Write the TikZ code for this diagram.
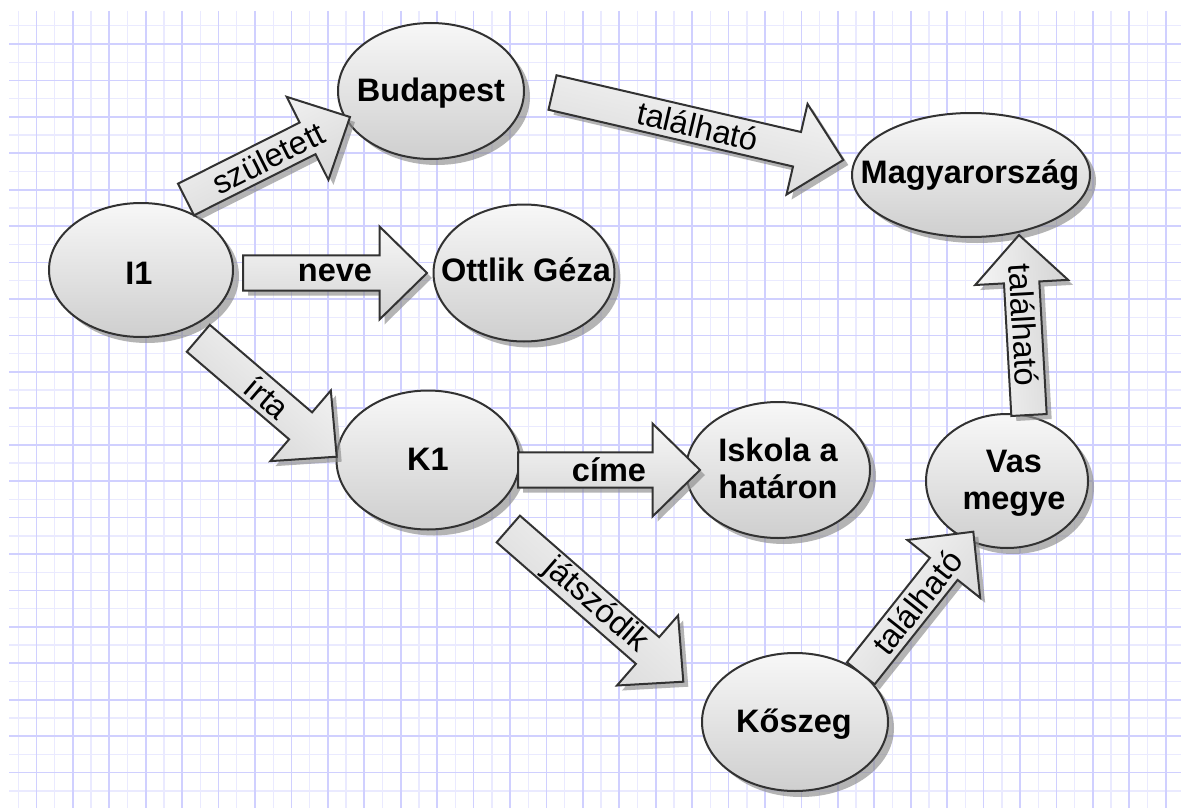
\documentclass[tikz,border=0pt]{standalone}
\usepackage{fontspec}
\setmainfont{Liberation Sans}
\usetikzlibrary{shapes.geometric,shadows,calc}

\definecolor{gridminor}{RGB}{234,234,255}
\definecolor{gridmajor}{RGB}{208,208,255}
\definecolor{edgeline}{RGB}{50,50,50}

\tikzset{
  place/.style={ellipse, draw=edgeline, line width=2pt,
    top color=black!3, bottom color=black!19, inner sep=0pt,
    drop shadow={shadow xshift=6pt, shadow yshift=-6pt, fill=black!45, opacity=0.65}},
  nodetext/.style={inner sep=0pt, align=center, font=\bfseries\fontsize{32.5}{37.5}\selectfont},
  plainlabel/.style={font=\fontsize{32.5}{37.5}\selectfont},
  boldlabel/.style={font=\bfseries\fontsize{32.5}{37.5}\selectfont},
  arrowbody/.style={draw=edgeline, line width=2pt, line join=miter, top color=black!3, bottom color=black!17},
  arrowshade/.style={fill=black!45, opacity=0.65},
  minorline/.style={draw=gridminor, line width=1.4pt},
  majorline/.style={draw=gridmajor, line width=1.7pt},
}

% Block arrow from a tail coordinate to a tip coordinate, with its label
% set in the middle of the arrow: \blockarrow[extra label turn]{tail}{tip}{label style}{text}
\newcommand\blockarrow[5][0]{%
  \pgfpointanchor{#2}{center}\pgfgetlastxy{\baTx}{\baTy}%
  \pgfpointanchor{#3}{center}\pgfgetlastxy{\baHx}{\baHy}%
  \pgfmathsetmacro\baAng{atan2((\baHy)-(\baTy),(\baHx)-(\baTx))}%
  \pgfmathsetmacro\baLen{veclen((\baHx)-(\baTx),(\baHy)-(\baTy))}%
  \pgfmathsetmacro\baNeck{\baLen-47.5}%
  \begin{scope}[xshift=5pt, yshift=-5pt, shift={(\baTx,\baTy)}, rotate=\baAng]
    \fill[arrowshade] (0,-17.7) -- (\baNeck,-17.7) -- (\baNeck,-46.5) -- (\baLen,0)
      -- (\baNeck,46.5) -- (\baNeck,17.7) -- (0,17.7) -- cycle;
  \end{scope}
  \begin{scope}[shift={(\baTx,\baTy)}, rotate=\baAng]
    \draw[arrowbody, shading angle=\baAng] (0,-17.7) -- (\baNeck,-17.7) -- (\baNeck,-46.5) -- (\baLen,0)
      -- (\baNeck,46.5) -- (\baNeck,17.7) -- (0,17.7) -- cycle;
    \node[#4, inner sep=0pt, rotate=\baAng+#1] at (\baLen/2,0) {#5};
  \end{scope}%
}

\begin{document}
\begin{tikzpicture}[x=1pt, y=-1pt]
\useasboundingbox (0,0) rectangle (1181,808);
\fill[white] (0,0) rectangle (1181,808);

% squared paper
\foreach \i in {1,3,...,63} \draw[minorline] (18.215*\i,11) -- (18.215*\i,808);
\foreach \j in {1,3,...,43} \draw[minorline] (9,7.57+18.215*\j) -- (1181,7.57+18.215*\j);
\foreach \i in {2,4,...,64} \draw[majorline] (18.215*\i,11) -- (18.215*\i,808);
\foreach \j in {2,4,...,42} \draw[majorline] (9,7.57+18.215*\j) -- (1181,7.57+18.215*\j);

% entities
\node[place, minimum width=184pt, minimum height=134pt] (I1) at (141,270) {};
\node[place, minimum width=186pt, minimum height=136pt] (Bp) at (431,91) {};
\node[place, minimum width=181pt, minimum height=137pt] (OG) at (524,273) {};
\node[place, minimum width=238pt, minimum height=124pt] (HU) at (971,175) {};
\node[place, minimum width=183pt, minimum height=139pt] (K1) at (428,460) {};
\node[place, minimum width=184pt, minimum height=136pt] (IH) at (778,470) {};
\node[place, minimum width=162pt, minimum height=134pt] (VM) at (1007,481) {};
\node[place, minimum width=186pt, minimum height=138pt] (KG) at (795,722) {};

\node[nodetext, anchor=base] (I1-t) at (139,284) {I1};
\node[nodetext, anchor=base] (Bp-t) at (431,101.7) {Budapest};
\node[nodetext, anchor=base] (OG-t) at (526,281.7) {Ottlik Géza};
\node[nodetext, anchor=base] (HU-t) at (970,183.3) {Magyarország};
\node[nodetext, anchor=base] (K1-t) at (428,470) {K1};
\node[nodetext, anchor=base] (KG-t) at (794,732) {Kőszeg};
\node[nodetext] (IH-t) at (778,468.6) {Iskola a\\határon};
\node[nodetext] (VM-t) at (1014,483.5) {Vas\\megye};

% arrow ends
\coordinate (a1) at ([shift={(45,-70.5)}]I1.center);
\coordinate (b1) at ([shift={(-81,26)}]Bp.center);
\coordinate (a2) at ([shift={(102,3)}]I1.center);
\coordinate (b2) at ([shift={(-97,0)}]OG.center);
\coordinate (a3) at ([shift={(121.5,1.5)}]Bp.center);
\coordinate (b3) at ([shift={(-127.7,-15)}]HU.center);
\coordinate (a4) at ([shift={(57.3,68.3)}]I1.center);
\coordinate (b4) at ([shift={(-91.3,-3.3)}]K1.center);
\coordinate (a5) at ([shift={(90,10)}]K1.center);
\coordinate (b5) at ([shift={(-78,0)}]IH.center);
\coordinate (a6) at ([shift={(80.3,69)}]K1.center);
\coordinate (b6) at ([shift={(-111.7,-40.3)}]KG.center);
\coordinate (a7) at ([shift={(22,-66)}]VM.center);
\coordinate (b7) at ([shift={(48,60)}]HU.center);
\coordinate (a8) at ([shift={(65.8,-48.7)}]KG.center);
\coordinate (b8) at ([shift={(-33.7,50.7)}]VM.center);

% relations
\blockarrow{a1}{b1}{plainlabel}{született}
\blockarrow{a2}{b2}{boldlabel}{neve}
\blockarrow{a3}{b3}{plainlabel}{található}
\blockarrow{a4}{b4}{plainlabel}{írta}
\blockarrow{a5}{b5}{boldlabel}{címe}
\blockarrow{a6}{b6}{plainlabel}{játszódik}
\blockarrow[180]{a7}{b7}{plainlabel}{található}
\blockarrow{a8}{b8}{plainlabel}{található}
\end{tikzpicture}
\end{document}
